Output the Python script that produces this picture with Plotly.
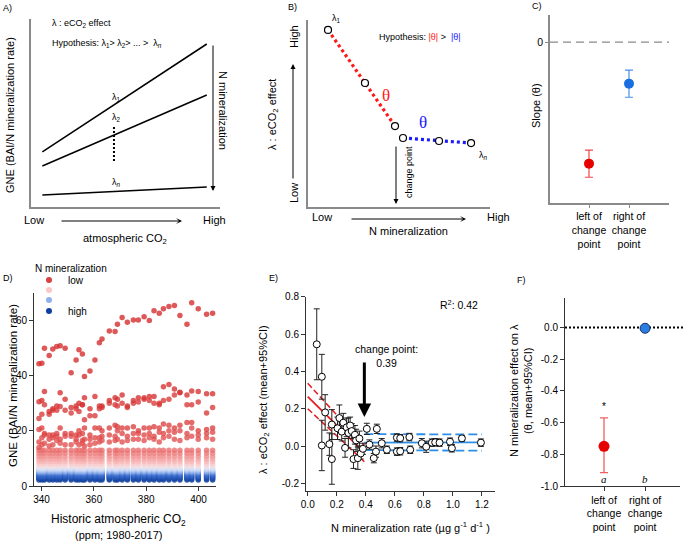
import plotly.graph_objects as go

W, H = 685, 543
FONT = "Liberation Sans, Arial, sans-serif"
SERIF = "Liberation Serif, Times New Roman, serif"

# ---------------- A) schematic: GNE vs atmospheric CO2 ----------------
a_co2 = [0.06, 0.93]
a_lambda1 = [0.293, 0.867]
a_lambda2 = [0.218, 0.596]
a_lambdan = [0.064, 0.106]
a_gap_x = [0.439, 0.439]
a_gap_y = [0.426, 0.234]

# ---------------- B) schematic: lambda vs N mineralization ----------------
b_nmin = [0.11, 0.313, 0.478, 0.522, 0.72, 0.896]
b_lambda = [0.947, 0.663, 0.433, 0.369, 0.353, 0.342]

# ---------------- C) schematic slopes ----------------
c_pos = [1, 2]
c_slope = [-0.76, -0.26]
c_ci = [0.085, 0.085]

# ---------------- D) GNE vs historic CO2 ----------------
d_co2 = [339.0, 340.1, 341.1, 342.9, 344.3, 345.8, 347.1, 349.0, 351.3, 353.2,
         354.3, 355.6, 356.4, 358.5, 360.4, 362.1, 363.1, 365.9, 368.1, 369.0,
         370.8, 372.8, 375.1, 377.0, 379.2, 381.2, 383.0, 385.0, 386.6, 388.7,
         390.8, 392.9, 395.6, 397.4, 399.9, 403.1, 405.4]
d_site1 = [44.3, 44.5, 50.0, 47.3, 49.7, 50.6, 50.9, 50.0, 41.1, 45.7,
           49.4, 47.9, 39.7, 41.7, 45.7, 52.0, 53.3, 56.2, 56.0, 58.7,
           61.1, 59.4, 60.2, 60.2, 61.4, 60.0, 63.6, 62.7, 64.3, 65.1,
           65.5, 61.8, 58.7, 66.5, 64.3, 62.3, 62.7]
d_site2 = [30.6, 31.0, 34.3, 27.0, 28.0, 29.0, 33.8, 31.5, 28.5, 29.0,
           30.0, 29.5, 32.0, 28.0, 32.5, 29.0, 29.0, 31.0, 32.0, 31.5,
           33.0, 29.0, 31.0, 32.0, 31.5, 32.5, 32.5, 30.0, 36.0, 36.8,
           35.2, 34.0, 33.0, 34.5, 34.3, 33.5, 33.5]
d_site3 = [24.5, 26.0, 29.5, 26.0, 27.5, 27.5, 28.8, 27.5, 26.5, 28.0,
           27.0, 29.5, 24.0, 25.5, 25.5, 28.0, 28.5, 30.0, 29.5, 29.0,
           30.0, 28.5, 30.0, 30.5, 32.0, 31.0, 30.0, 29.5, 31.0, 31.5,
           33.0, 33.8, 29.5, 29.5, 30.5, 26.5, 28.5]
d_site4 = [20.5, 21.0, 19.0, 18.5, 18.5, 19.0, 21.0, 19.0, 19.0, 18.5,
           20.0, 19.0, 21.0, 18.5, 21.0, 21.0, 20.0, 21.0, 22.0, 21.5,
           21.0, 21.0, 21.5, 20.0, 21.0, 21.0, 21.5, 21.0, 22.5, 22.0,
           21.0, 22.0, 23.0, 23.0, 20.0, 20.5, 21.0]
d_site5 = [16.0, 17.5, 18.5, 17.0, 17.5, 18.0, 17.0, 18.0, 18.0, 17.0,
           18.5, 16.5, 17.0, 17.0, 17.5, 17.5, 18.0, 18.5, 18.0, 20.0,
           19.0, 18.0, 19.0, 19.0, 18.5, 19.0, 18.0, 19.5, 19.0, 20.0,
           19.5, 20.0, 19.0, 21.0, 18.5, 19.0, 19.5]
d_site6 = [14.0, 15.0, 15.5, 14.5, 15.0, 16.5, 15.5, 15.0, 15.0, 16.0,
           15.0, 15.5, 14.5, 15.0, 15.5, 16.0, 16.5, 16.0, 16.5, 17.0,
           16.0, 16.5, 17.0, 17.0, 16.5, 17.5, 17.0, 16.0, 17.5, 18.0,
           17.0, 16.5, 17.5, 18.0, 17.0, 17.5, 17.0]
d_upper_sites = [d_site1, d_site2, d_site3, d_site4, d_site5, d_site6]
d_upper_nrank = [0.0, 0.04, 0.08, 0.12, 0.16, 0.20]
# remaining (dense) sites: GNE level and N-mineralization rank
d_band_gne = [2.2, 2.6, 2.9, 3.2, 3.5, 3.8, 4.1, 4.4, 4.8, 5.2, 5.7,
              6.2, 6.8, 7.4, 8.1, 8.9, 9.8, 10.8, 11.9, 13.0]
d_band_nrank = [1.0, 0.97, 0.95, 0.93, 0.9, 0.88, 0.86, 0.84, 0.8, 0.76, 0.72,
                0.68, 0.64, 0.6, 0.55, 0.5, 0.45, 0.4, 0.35, 0.3]
d_colorscale = [[0, "#d42e2e"], [0.25, "#e65c5c"], [0.45, "#f5a8a8"],
                [0.58, "#fbd8d8"], [0.66, "#dfe7f8"], [0.74, "#9bb9ef"],
                [0.84, "#3f70d0"], [1, "#0a3a99"]]

# ---------------- E) lambda vs N mineralization rate ----------------
e_nmin = [0.062, 0.097, 0.097, 0.120, 0.149, 0.166, 0.166, 0.205, 0.218, 0.234,
          0.245, 0.257, 0.268, 0.280, 0.292, 0.303, 0.315, 0.325, 0.333, 0.345,
          0.356, 0.365, 0.380, 0.407, 0.425, 0.455, 0.476, 0.470, 0.510, 0.545,
          0.614, 0.614, 0.637, 0.637, 0.700, 0.706, 0.786, 0.816, 0.855, 0.878,
          0.908, 0.980, 0.993, 1.062, 1.193]
e_lambda = [0.545, 0.371, 0.003, 0.180, 0.010, -0.070, 0.115, 0.095, 0.150, 0.077,
            0.125, -0.010, 0.100, 0.070, 0.110, 0.080, -0.070, 0.060, 0.030, -0.065,
            0.040, -0.040, -0.015, 0.092, 0.008, -0.065, 0.092, -0.030, 0.015, -0.020,
            0.045, -0.030, 0.042, -0.028, 0.048, -0.020, 0.015, -0.004, 0.018, 0.020,
            0.018, 0.023, -0.012, 0.041, 0.018]
e_ci = [0.19, 0.12, 0.135, 0.095, 0.06, 0.135, 0.08, 0.06, 0.07, 0.05,
        0.05, 0.05, 0.05, 0.08, 0.045, 0.04, 0.05, 0.05, 0.06, 0.06,
        0.04, 0.03, 0.03, 0.03, 0.025, 0.025, 0.025, 0.03, 0.025, 0.02,
        0.02, 0.02, 0.02, 0.02, 0.02, 0.02, 0.025, 0.03, 0.02, 0.02,
        0.02, 0.02, 0.02, 0.015, 0.02]
e_left_x = [0.0, 0.39]
e_left_fit = [0.265, -0.035]
e_left_up = [0.336, 0.005]
e_left_lo = [0.200, -0.084]
e_right_x = [0.39, 1.2]
e_right_fit = [0.018, 0.020]
e_right_up = [0.064, 0.062]
e_right_lo = [-0.022, -0.025]
e_change_point = 0.39

# ---------------- F) theta left/right of change point ----------------
f_pos = [1, 2]
f_theta = [-0.75, -0.005]
f_ci_up = [0.18, 0.01]
f_ci_lo = [0.165, 0.01]


def px(x):
    return x / W


def py(y):
    return 1 - y / H


fig = go.Figure()

# A
for yy in (a_lambda1, a_lambda2, a_lambdan):
    fig.add_trace(go.Scatter(x=a_co2, y=yy, mode="lines", line=dict(color="black", width=1.5),
                             xaxis="x", yaxis="y"))
fig.add_trace(go.Scatter(x=a_gap_x, y=a_gap_y, mode="lines",
                         line=dict(color="black", width=2, dash="2px,2px"), xaxis="x", yaxis="y"))

# B
fig.add_trace(go.Scatter(x=b_nmin[:3], y=b_lambda[:3], mode="lines",
                         line=dict(color="#ff1a1a", width=3.2, dash="3px,3px"), xaxis="x2", yaxis="y2"))
fig.add_trace(go.Scatter(x=b_nmin[3:], y=b_lambda[3:], mode="lines",
                         line=dict(color="#1a1aff", width=3.2, dash="3px,3px"), xaxis="x2", yaxis="y2"))
fig.add_trace(go.Scatter(x=b_nmin, y=b_lambda, mode="markers",
                         marker=dict(color="white", size=7, line=dict(color="black", width=1.2)),
                         xaxis="x2", yaxis="y2"))

# C
for i, col, ecol in ((0, "#e60000", "#f04848"), (1, "#1a6fe0", "#4a90e8")):
    fig.add_trace(go.Scatter(x=[c_pos[i]], y=[c_slope[i]], mode="markers",
                             marker=dict(color=col, size=10),
                             error_y=dict(type="data", array=[c_ci[i]], color=ecol, thickness=1.2, width=4),
                             xaxis="x3", yaxis="y3"))

# D
dx, dy, dc = [], [], []
for gne, rank in zip(d_band_gne, d_band_nrank):
    for co2 in d_co2:
        dx.append(co2)
        dy.append(gne)
        dc.append(rank)
for site, rank in zip(reversed(d_upper_sites), reversed(d_upper_nrank)):
    dx.extend(d_co2)
    dy.extend(site)
    dc.extend([rank] * len(d_co2))
fig.add_trace(go.Scatter(x=dx, y=dy, mode="markers",
                         marker=dict(color=dc, colorscale=d_colorscale, cmin=0, cmax=1,
                                     size=5.5, opacity=0.8, line=dict(width=0)),
                         xaxis="x4", yaxis="y4"))

# E
for xx, yy, dash, wd, col in ((e_left_x, e_left_up, "6px,3px", 1.5, "#e81c1c"),
                              (e_left_x, e_left_lo, "6px,3px", 1.5, "#e81c1c"),
                              (e_left_x, e_left_fit, "solid", 1.8, "#e81c1c"),
                              (e_right_x, e_right_up, "9px,4px", 1.8, "#2f8fe6"),
                              (e_right_x, e_right_lo, "9px,4px", 1.8, "#2f8fe6"),
                              (e_right_x, e_right_fit, "solid", 1.8, "#2f8fe6")):
    fig.add_trace(go.Scatter(x=xx, y=yy, mode="lines", line=dict(color=col, width=wd, dash=dash),
                             xaxis="x5", yaxis="y5"))
fig.add_trace(go.Scatter(x=e_nmin, y=e_lambda, mode="markers",
                         marker=dict(color="white", size=7, line=dict(color="black", width=1)),
                         error_y=dict(type="data", array=e_ci, color="#222222", thickness=1, width=3),
                         xaxis="x5", yaxis="y5"))

# F
fig.add_trace(go.Scatter(x=[f_pos[0]], y=[f_theta[0]], mode="markers",
                         marker=dict(color="#e60000", size=11),
                         error_y=dict(type="data", array=[f_ci_up[0]], arrayminus=[f_ci_lo[0]],
                                      color="#f06060", thickness=1.3, width=4),
                         xaxis="x6", yaxis="y6"))
fig.add_trace(go.Scatter(x=[f_pos[1]], y=[f_theta[1]], mode="markers",
                         marker=dict(color="#2a7ee0", size=10, line=dict(color="#1a2f6a", width=1)),
                         xaxis="x6", yaxis="y6"))


def schem_axes(xdom, ydom, xr, yr):
    base = dict(showline=True, linecolor="#8a8a8a", linewidth=1.5, showgrid=False, automargin=False,
                zeroline=False, showticklabels=False, ticks="")
    return dict(base, domain=xdom, range=xr), dict(base, domain=ydom, range=yr)


tick_font = dict(family=FONT, size=10, color="black")
ax = dict(showline=True, linecolor="#333333", linewidth=1, showgrid=False, zeroline=False,
          automargin=False, ticks="outside", ticklen=4, tickcolor="#333333", tickfont=tick_font)
gray_ax = dict(showline=True, linecolor="#8a8a8a", linewidth=1.5, showgrid=False, zeroline=False,
               automargin=False, ticks="outside", ticklen=3, tickcolor="#8a8a8a",
               tickfont=dict(family=FONT, size=10.5, color="black"))

xa, ya = schem_axes([px(31), px(220)], [py(207), py(19)], [0, 1], [0, 1])
xb, yb = schem_axes([px(308), px(490)], [py(207), py(20)], [0, 1], [0, 1])

layout = dict(
    template="none",
    width=W, height=H, margin=dict(l=0, r=0, t=0, b=0, pad=0, autoexpand=False),
    paper_bgcolor="white", plot_bgcolor="white", showlegend=False,
    font=dict(family=FONT, color="black"),
    xaxis=dict(xa, anchor="y"), yaxis=dict(ya, anchor="x"),
    xaxis2=dict(xb, anchor="y2"), yaxis2=dict(yb, anchor="x2"),
    xaxis3=dict(gray_ax, domain=[px(550), px(669)], range=[0.025, 3.0], anchor="y3",
                tickvals=c_pos, ticktext=["left of<br>change<br>point", "right of<br>change<br>point"]),
    yaxis3=dict(gray_ax, domain=[py(203), py(15)], range=[-1.006, 0.169], anchor="x3",
                tickvals=[0], ticktext=["0"]),
    xaxis4=dict(ax, domain=[px(34), px(216)], range=[337.1, 406.7], anchor="y4",
                tickvals=[340, 360, 380, 400]),
    yaxis4=dict(ax, domain=[py(486), py(293)], range=[0, 70], anchor="x4",
                tickvals=[0, 20, 40, 60]),
    xaxis5=dict(ax, domain=[px(306), px(495)], range=[-0.012, 1.29], anchor="y5",
                tickvals=[0, 0.2, 0.4, 0.6, 0.8, 1.0, 1.2],
                ticktext=[f"{v:.1f}" for v in [0, 0.2, 0.4, 0.6, 0.8, 1.0, 1.2]]),
    yaxis5=dict(ax, domain=[py(491), py(296.7)], range=[-0.241, 0.8], anchor="x5",
                tickvals=[-0.2, 0, 0.2, 0.4, 0.6, 0.8],
                ticktext=[f"{v:.1f}" for v in [-0.2, 0, 0.2, 0.4, 0.6, 0.8]]),
    xaxis6=dict(ax, domain=[px(565), px(680)], range=[0.05, 2.85], anchor="y6",
                tickvals=f_pos, ticktext=["left of<br>change<br>point", "right of<br>change<br>point"],
                tickfont=dict(family=FONT, size=10.5, color="black")),
    yaxis6=dict(ax, domain=[py(486), py(298)], range=[-1.0, 0.186], anchor="x6",
                tickvals=[0, -0.2, -0.4, -0.6, -0.8, -1.0],
                ticktext=[f"{v:.1f}" for v in [0, -0.2, -0.4, -0.6, -0.8, -1.0]]),
)
fig.update_layout(**layout)


def txt(x, y, text, size=10, color="black", family=FONT, **kw):
    return dict(xref="paper", yref="paper", x=px(x), y=py(y), text=text, showarrow=False,
                xanchor=kw.pop("xanchor", "center"), yanchor="middle",
                font=dict(size=size, family=family, color=color), **kw)


def arrow(x0, y0, x1, y1, width=1, head=2, size=1.0):
    return dict(xref="paper", yref="paper", x=px(x1), y=py(y1), ax=x0 - x1, ay=y0 - y1,
                axref="pixel", ayref="pixel", showarrow=True, text="", arrowhead=head,
                arrowwidth=width, arrowsize=size, arrowcolor="black")


ann = [
    # A
    txt(8, 8, "A)", 9),
    txt(50, 23, "λ : eCO<sub>2</sub> effect", 9, xanchor="left"),
    txt(50, 43, "Hypothesis: λ<sub>1</sub>> λ<sub>2</sub>> ... >  λ<sub><i>n</i></sub>", 9, xanchor="left"),
    txt(116, 98, "λ<sub>1</sub>", 9),
    txt(116, 117, "λ<sub>2</sub>", 9),
    txt(116, 182, "λ<sub><i>n</i></sub>", 9),
    txt(223, 110, "N mineralization", 11, textangle=90),
    arrow(213, 44, 213, 191),
    txt(34, 220, "Low", 11), txt(214, 220, "High", 11),
    arrow(60, 221, 182, 221, head=3),
    txt(125, 239, "atmospheric CO<sub>2</sub>", 11),
    txt(10, 115, "GNE (BAI/N mineralization rate)", 11, textangle=-90),
    # B
    txt(292, 7, "B)", 9),
    txt(336, 18, "λ<sub>1</sub>", 9),
    txt(483, 155, "λ<sub><i>n</i></sub>", 9),
    txt(377, 37, "Hypothesis: <span style='color:#ff1a1a'>|θ|</span> >  "
                 "<span style='color:#1a1aff'>|θ|</span>", 9, xanchor="left"),
    txt(386, 95, "θ", 17, color="#ff1a1a", family=SERIF),
    txt(423, 123, "θ", 17, color="#1a1aff", family=SERIF),
    arrow(396, 145, 396, 204),
    txt(409, 172, "change point", 9, textangle=-90),
    txt(294, 37, "High", 11, textangle=-90), txt(294, 193, "Low", 11, textangle=-90),
    arrow(293, 180, 293, 64),
    txt(322, 217, "Low", 11), txt(499, 217, "High", 11),
    arrow(350, 219, 466, 219, head=3),
    txt(408, 231, "N mineralization", 11),
    txt(273, 115, "λ : eCO<sub>2</sub> effect", 11, textangle=-90),
    # C
    txt(537, 6, "C)", 9),
    txt(536, 106, "Slope (θ)", 11, textangle=-90),
    # D
    txt(8, 278, "D)", 9),
    txt(33, 268, "N mineralization", 10, xanchor="left"),
    txt(66, 280, "low", 10, xanchor="left"),
    txt(66, 311, "high", 10, xanchor="left"),
    txt(118, 520, "Historic atmospheric CO<sub>2</sub>", 12),
    txt(118, 535, "(ppm; 1980-2017)", 11),
    txt(13, 386, "GNE (BAI/N mineralization rate)", 11.5, textangle=-90),
    # E
    txt(273, 278, "E)", 9),
    dict(xref="x5", yref="y5", x=1.04, y=0.756, text="R<sup>2</sup>: 0.42", showarrow=False,
         font=dict(size=10.5, family=FONT)),
    dict(xref="x5", yref="y5", x=0.545, y=0.48, text="change point:<br>0.39", showarrow=False,
         font=dict(size=10.5, family=FONT)),
    dict(xref="x5", yref="y5", x=e_change_point, y=0.155, axref="x5", ayref="y5",
         ax=e_change_point, ay=0.455, showarrow=True, text="", arrowhead=2, arrowwidth=3,
         arrowsize=0.9, arrowcolor="black"),
    txt(410, 527, "N mineralization rate (µg g<sup>-1</sup> d<sup>-1</sup> )", 11),
    txt(264, 400, "λ : eCO<sub>2</sub> effect (mean+95%CI)", 11, textangle=-90),
    # F
    txt(521, 280, "F)", 9),
    txt(521, 391, "N mineralization effect on λ<br>(θ, mean+95%CI)", 11, textangle=-90),
    dict(xref="x6", yref="y6", x=1, y=-0.5, text="*", showarrow=False, font=dict(size=10, family=FONT)),
    dict(xref="x6", yref="y6", x=1, y=-0.955, text="<i>a</i>", showarrow=False,
         font=dict(size=11, family=SERIF)),
    dict(xref="x6", yref="y6", x=2, y=-0.955, text="<i>b</i>", showarrow=False,
         font=dict(size=11, family=SERIF)),
]
fig.update_layout(annotations=ann)

shapes = [
    dict(type="line", xref="x3 domain", yref="y3", x0=0, x1=1, y0=0, y1=0,
         line=dict(color="#8a8a8a", width=1.2, dash="8px,5px")),
    dict(type="line", xref="x6 domain", yref="y6", x0=0, x1=1.03, y0=0, y1=0,
         line=dict(color="black", width=2, dash="2px,2px"), layer="below"),
]
for yy, col in ((280, "#d94040"), (290, "#fbc6c6"), (300, "#8fb0ec"), (311, "#0f3f9f")):
    shapes.append(dict(type="circle", xref="paper", yref="paper", xsizemode="pixel", ysizemode="pixel",
                       xanchor=px(49), yanchor=py(yy), x0=-3, x1=3, y0=-3, y1=3,
                       fillcolor=col, line=dict(width=0)))
fig.update_layout(shapes=shapes)

# the page body keeps its default 8px margin otherwise, which shifts the whole figure
fig.write_html("out.html", config={"displayModeBar": False},
               post_script="document.body.style.margin = '0px';")
